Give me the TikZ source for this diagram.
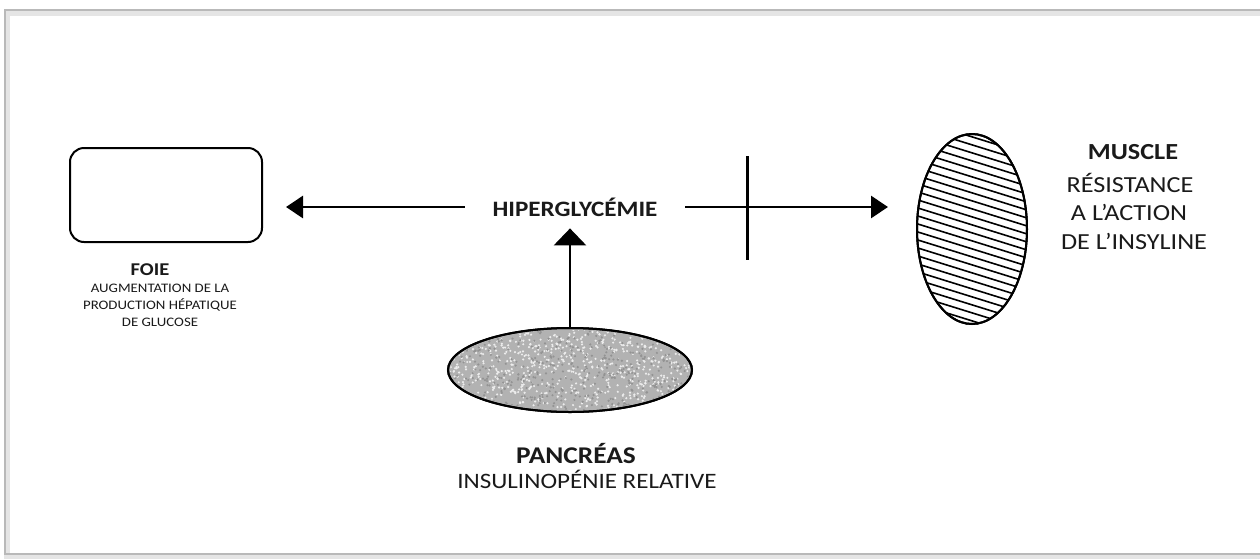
\documentclass[tikz,border=0pt]{standalone}
\usepackage{fontspec}
\setmainfont{Carlito}
\usetikzlibrary{arrows.meta,shapes.geometric}
\newcommand{\hs}[1]{\scalebox{1.14}[1]{#1}}
\definecolor{ink}{HTML}{1A1A1A}
\begin{document}
\begin{tikzpicture}[x=0.5pt,y=-0.5pt,
  conn/.style={line width=1.4pt,-{Triangle[length=8.5pt,width=11pt]}},
  lbl/.style={text=ink,inner sep=0pt},
  organ/.style={draw,line width=1pt,inner sep=0pt}]
\useasboundingbox (0,0) rectangle (1260,558);
\fill[white] (0,0) rectangle (1260,558);
% frame
\draw[gray!20,line width=3pt] (7,13) rectangle (1264,557);
\draw[gray!55,line width=0.6pt] (5,10) rectangle (1262,554);

% foie
\node[organ,rounded corners=7pt,minimum width=96pt,minimum height=47pt] (foie) at (166,195) {};
\node[lbl,font=\bfseries\fontsize{9}{10}\selectfont] (foiet) at (150,270) {\hs{FOIE}};
\node[lbl,font=\fontsize{6.5}{8.5}\selectfont,align=center] (foied) at (160,305)
  {\hs{AUGMENTATION DE LA}\\\hs{PRODUCTION HÉPATIQUE}\\\hs{DE GLUCOSE}};

% hyperglycemie
\node[lbl,font=\bfseries\fontsize{11}{13}\selectfont,minimum width=110pt,minimum height=21pt] (hyper) at (575,207) {\hs{HIPERGLYCÉMIE}};

% pancreas
\node[organ,ellipse,minimum width=122pt,minimum height=42pt,fill=gray!60] (pancreas) at (570,370) {};
\begin{scope}
  \clip (570,370) ellipse [x radius=60pt, y radius=20pt];
  \pgfmathsetseed{11}
  \foreach \i in {1,...,800}{
    \pgfmathsetmacro\px{448+244*rnd}
    \pgfmathsetmacro\py{328+84*rnd}
    \fill[white!85!gray] (\px,\py) circle[radius=0.6pt];
  }
  \foreach \i in {1,...,500}{
    \pgfmathsetmacro\px{448+244*rnd}
    \pgfmathsetmacro\py{328+84*rnd}
    \fill[gray!85] (\px,\py) circle[radius=0.6pt];
  }
\end{scope}
\draw[line width=1pt] (570,370) ellipse [x radius=61pt, y radius=21pt];
\node[lbl,font=\bfseries\fontsize{12}{14}\selectfont] (pant) at (576,453) {\hs{PANCRÉAS}};
\node[lbl,font=\fontsize{11}{13}\selectfont] (pand) at (587,479) {\hs{INSULINOPÉNIE RELATIVE}};

% muscle
\node[organ,ellipse,minimum width=55pt,minimum height=95pt] (muscle) at (972,229) {};
\begin{scope}
  \clip (972,229) ellipse [x radius=27.5pt, y radius=47.5pt];
  \foreach \y in {60,68,...,380}{
    \draw[line width=0.8pt] (905,\y) -- (1040,\y+42);
  }
\end{scope}
\draw[line width=1pt] (972,229) ellipse [x radius=27.5pt, y radius=47.5pt];
\node[lbl,font=\bfseries\fontsize{11.5}{13}\selectfont] (muscot) at (1133,152) {\hs{MUSCLE}};
\node[lbl,font=\fontsize{11.5}{13}\selectfont] (musc1) at (1130,183) {\hs{RÉSISTANCE}};
\node[lbl,font=\fontsize{11.5}{13}\selectfont] (musc2) at (1129,212) {\hs{A L’ACTION}};
\node[lbl,font=\fontsize{11.5}{13}\selectfont] (musc3) at (1134,241) {\hs{DE L’INSYLINE}};

% connectors
\draw[conn,shorten >=11.5pt] (hyper.west) -- (hyper.west -| foie.east);
\draw[conn,shorten >=14pt] (hyper.east) -- (hyper.east -| muscle.west);
\draw[conn,-{Triangle[length=8.5pt,width=16pt]}] (pancreas.north) -- (pancreas.north |- hyper.south);
% block bar
\draw[line width=1.5pt] (747,156) -- (747,260);
\end{tikzpicture}
\end{document}
